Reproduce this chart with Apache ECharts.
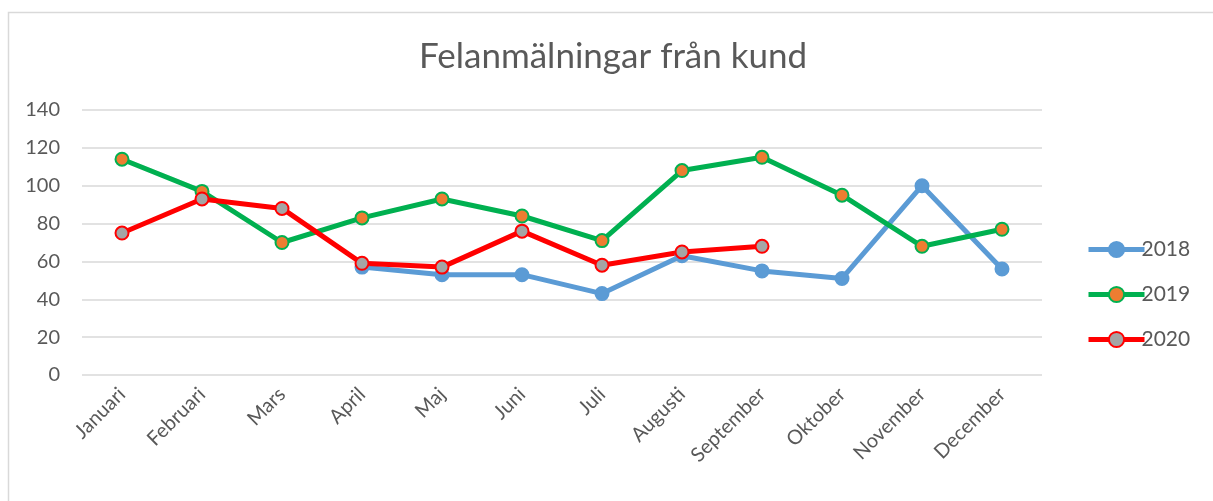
<!DOCTYPE html>
<html>
<head>
<meta charset="utf-8">
<script src="https://cdn.jsdelivr.net/npm/echarts@6/dist/echarts.min.js"></script>
<style>
  html, body { margin: 0; padding: 0; background: #fff; }
  #chart { width: 1213px; height: 501px; }
</style>
</head>
<body>
<div id="chart"></div>
<script>
// months on the x axis
const months = ['Januari', 'Februari', 'Mars', 'April', 'Maj', 'Juni', 'Juli', 'Augusti', 'September', 'Oktober', 'November', 'December']
// values per year (null = no data)
const y2018 = [null, null, null, 57, 53, 53, 43, 63, 55, 51, 100, 56]
const y2019 = [114, 97, 70, 83, 93, 84, 71, 108, 115, 95, 68, 77]
const y2020 = [75, 93, 88, 59, 57, 76, 58, 65, 68, null, null, null]

const font = 'Lato, "Open Sans", sans-serif'
const textColor = '#595959'

const chart = echarts.init(document.getElementById('chart'))

function lineSeries(name, data, lineColor, fill) {
  return {
    name: name,
    type: 'line',
    data: data,
    symbol: 'circle',
    symbolSize: 13,
    showAllSymbol: true,
    lineStyle: { color: lineColor, width: 5 },
    itemStyle: { color: fill, borderColor: lineColor, borderWidth: 2 },
    emphasis: { disabled: true }
  }
}

chart.setOption({
  backgroundColor: '#fff',
  animation: false,
  graphic: [{
    type: 'rect',
    shape: { x: 8.5, y: 12.5, width: 1220, height: 500 },
    style: { fill: 'none', stroke: '#d9d9d9', lineWidth: 1.5 },
    silent: true
  }],
  title: {
    text: 'Felanmälningar från kund',
    left: 414,
    top: 34,
    textStyle: { color: textColor, fontSize: 35, fontWeight: 'normal', fontFamily: font }
  },
  legend: {
    orient: 'vertical',
    left: 1081,
    top: 234,
    itemGap: 24,
    itemWidth: 56,
    itemHeight: 19,
    lineStyle: { width: 5 },
    textStyle: { color: textColor, fontSize: 21, fontFamily: font, padding: [0, 0, 0, -8] },
    data: [
      { name: '2018', lineStyle: { width: 5 } },
      { name: '2019', lineStyle: { width: 5 } },
      { name: '2020', lineStyle: { width: 5 } }
    ]
  },
  grid: {
    left: 82,
    right: 1213 - 1042,
    top: 110,
    bottom: 501 - 375,
    containLabel: false
  },
  xAxis: {
    type: 'category',
    data: months,
    boundaryGap: true,
    axisLine: { show: false },
    axisTick: { show: false },
    axisLabel: {
      rotate: 45,
      interval: 0,
      color: textColor,
      fontSize: 20,
      fontFamily: font,
      margin: 16
    }
  },
  yAxis: {
    type: 'value',
    min: 0,
    max: 140,
    interval: 20,
    axisLine: { show: false },
    axisTick: { show: false },
    splitLine: { lineStyle: { color: '#d9d9d9', width: 1.5 } },
    axisLabel: { color: textColor, fontSize: 20, fontFamily: font, margin: 22 }
  },
  series: [
    lineSeries('2018', y2018, '#5b9bd5', '#5b9bd5'),
    lineSeries('2019', y2019, '#00b050', '#ed7d31'),
    lineSeries('2020', y2020, '#ff0000', '#a5a5a5')
  ]
})
</script>
</body>
</html>
